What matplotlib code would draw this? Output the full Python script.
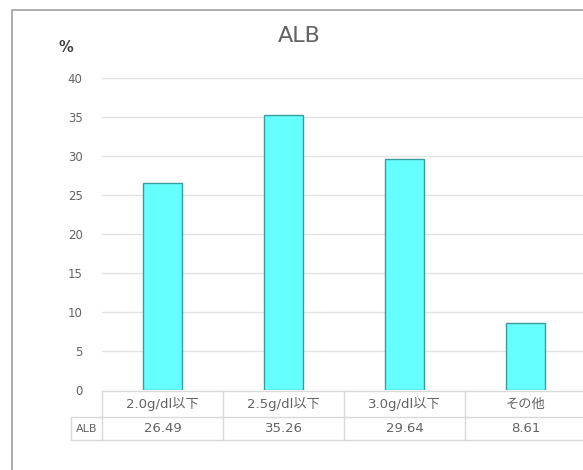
import matplotlib
matplotlib.use("Agg")
import matplotlib.pyplot as plt
from matplotlib.patches import Rectangle
from matplotlib.lines import Line2D
from matplotlib.transforms import blended_transform_factory

plt.rcParams['font.family'] = ['DejaVu Sans', 'Noto Sans CJK JP']

# Data
title = "ALB"
series_name = "ALB"
categories = ["2.0g/dl以下", "2.5g/dl以下", "3.0g/dl以下", "その他"]
values = [26.49, 35.26, 29.64, 8.61]
y_ticks = [0, 5, 10, 15, 20, 25, 30, 35, 40]

W, H = 583, 470
DPI = 100
TEXT = "#636363"
GRID = "#e3e3e3"
TABLE = "#d9d9d9"

fig = plt.figure(figsize=(W / DPI, H / DPI), dpi=DPI)

def fx(px):
    return px / W

def fy(py):
    return 1 - py / H

# Chart frame (extends past the right and bottom edges)
fig.patches.append(Rectangle((fx(12), fy(H + 20)), fx(W + 40), fy(10) - fy(H + 20),
                             transform=fig.transFigure, fill=False,
                             edgecolor="#a0a0a0", linewidth=1.2))

# Plot area
left_px, right_px, top_px, bottom_px = 102, 586, 78, 390
ax = fig.add_axes([fx(left_px), fy(bottom_px), fx(right_px - left_px),
                   fy(top_px) - fy(bottom_px)])
ax.set_xlim(-0.5, len(categories) - 0.5)
ax.set_ylim(0, 40)

x = list(range(len(categories)))
ax.bar(x, values, width=0.32, color="#66ffff", edgecolor="#3b9a9c",
       linewidth=1.0, zorder=3)

ax.set_yticks(y_ticks)
ax.set_yticklabels([str(t) for t in y_ticks], fontsize=8.5, color=TEXT)
ax.tick_params(axis="y", length=0, pad=14)
ax.set_xticks([])
ax.grid(axis="y", color=GRID, linewidth=1.0, zorder=0)
for s in ax.spines.values():
    s.set_visible(False)

# Data table under the plot area
plot_h = bottom_px - top_px
def ay(py):
    return (bottom_px - py) / plot_h

trans = blended_transform_factory(ax.transData, ax.transAxes)
cat_w_px = (right_px - left_px) / len(categories)
hdr_left = -0.5 - (left_px - 71) / cat_w_px

row_top, row_mid, row_bot = ay(391), ay(417), ay(440)
lines = [
    ([-0.5, len(categories) - 0.5], [row_top, row_top]),
    ([hdr_left, len(categories) - 0.5], [row_mid, row_mid]),
    ([hdr_left, len(categories) - 0.5], [row_bot, row_bot]),
    ([hdr_left, hdr_left], [row_mid, row_bot]),
]
for i in range(len(categories) + 1):
    xb = -0.5 + i
    lines.append(([xb, xb], [row_top, row_bot]))
for xs, ys in lines:
    ax.add_line(Line2D(xs, ys, transform=trans, color=TABLE, linewidth=1.0,
                       clip_on=False))

for xi, cat, val in zip(x, categories, values):
    ax.text(xi, ay(404), cat, transform=trans, ha="center", va="center",
            fontsize=9.5, color=TEXT, clip_on=False)
    ax.text(xi, ay(429), f"{val:.2f}", transform=trans, ha="center",
            va="center", fontsize=9.5, color=TEXT, clip_on=False)
ax.text((hdr_left - 0.5) / 2, ay(429), series_name, transform=trans,
        ha="center", va="center", fontsize=8, color=TEXT, clip_on=False)

# Title and unit label
fig.text(fx(299), fy(36), title, ha="center", va="center", fontsize=16,
         color=TEXT)
fig.text(fx(66), fy(47), "%", ha="center", va="center", fontsize=10.5,
         color="#404040", fontweight="bold")

fig.savefig("out.png", dpi=DPI, facecolor="white")
